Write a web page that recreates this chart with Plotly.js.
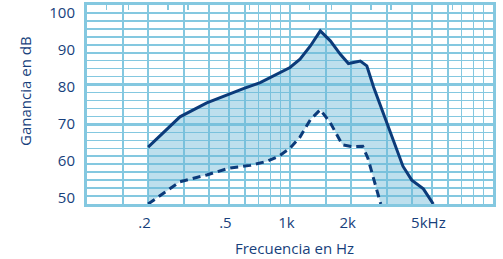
<!DOCTYPE html>
<html>
<head>
<meta charset="utf-8">
<script src="https://cdn.plot.ly/plotly-3.0.1.min.js"></script>
<style>html,body{margin:0;padding:0;background:#fff;}#chart{width:503px;height:259px;}</style>
</head>
<body>
<div id="chart"></div>
<script>
// Frequencies in kHz, gain in dB
var solidFreq = [0.2, 0.287, 0.389, 0.494, 0.589, 0.713, 0.828, 0.928, 1.0, 1.12, 1.26, 1.41, 1.58, 1.77, 1.94, 2.22, 2.39, 2.58, 2.78, 3.0, 3.23, 3.6, 3.98, 4.54, 5.08];
var solidGain = [64.3, 71.9, 75.4, 77.5, 79.0, 80.5, 82.1, 83.4, 84.3, 86.4, 89.7, 93.5, 91.0, 87.6, 85.3, 85.9, 84.7, 79.4, 74.9, 70.4, 66.1, 59.5, 56.0, 53.8, 50.0];
var dashFreq = [0.2, 0.287, 0.389, 0.5, 0.636, 0.768, 0.88, 1.0, 1.12, 1.26, 1.41, 1.58, 1.81, 2.03, 2.28, 2.42, 2.6, 2.8];
var dashGain = [50.0, 55.6, 57.3, 59.0, 59.7, 60.7, 62.0, 64.0, 66.8, 71.2, 73.7, 70.4, 64.9, 64.4, 64.5, 61.5, 55.8, 50.0];

var majorFreqTicks = [0.2, 0.5, 1, 2, 5];
var minorFreqTicks = [0.15, 0.3, 0.4, 0.6, 0.7, 0.8, 0.9, 1.5, 3, 4, 6, 7, 8, 9];
var freqTickText = ['.2', '.5', '1k', '2k', '5kHz'];
var thirdOctaveTicks = [0.125, 0.16, 0.25, 0.315, 0.4, 0.63, 0.8, 1.25, 1.6, 2.5, 3.15, 4, 5, 6.3, 8];
var gainTicks = [50, 60, 70, 80, 90, 100];
var gainTickText = ['50', '60', '70', '80', '90', '100'];

var GRID = 'rgb(132,200,224)';
var LINE = '#0c3b7a';
var TEXT = '#173f7c';
var FONT = 'Open Sans, sans-serif';

var traces = [
  {x: dashFreq, y: dashGain, type: 'scatter', mode: 'lines',
   line: {color: LINE, width: 3, dash: '8px,5px'}, hoverinfo: 'skip'},
  {x: solidFreq, y: solidGain, type: 'scatter', mode: 'lines',
   line: {color: LINE, width: 3}, fill: 'tonexty', fillcolor: 'rgba(108,184,216,0.45)', hoverinfo: 'skip'},
  // empty helper traces so the label / tick overlay axes get drawn
  {x: [], y: [], type: 'scatter', mode: 'lines', xaxis: 'x2', yaxis: 'y', hoverinfo: 'skip'},
  {x: [], y: [], type: 'scatter', mode: 'lines', xaxis: 'x3', yaxis: 'y', hoverinfo: 'skip'},
  {x: [], y: [], type: 'scatter', mode: 'lines', xaxis: 'x', yaxis: 'y2', hoverinfo: 'skip'}
];

var layout = {
  width: 503, height: 259,
  margin: {l: 87, r: 10, t: 5, b: 55},
  paper_bgcolor: '#fff', plot_bgcolor: '#fff',
  showlegend: false,
  font: {family: FONT, color: TEXT, size: 15},
  xaxis: {
    type: 'log', range: [-1, 1], tickvals: majorFreqTicks, showticklabels: false, ticks: '',
    showgrid: true, gridcolor: GRID, gridwidth: 2.5, zeroline: false,
    minor: {tickvals: minorFreqTicks, showgrid: true, gridcolor: GRID, gridwidth: 1.5, ticks: ''},
    showline: true, mirror: true, linecolor: GRID, linewidth: 3
  },
  yaxis: {
    range: [50, 100], dtick: 10, tick0: 50, showticklabels: false, ticks: '',
    showgrid: true, gridcolor: GRID, gridwidth: 2.5, zeroline: false,
    minor: {dtick: 2, showgrid: true, gridcolor: GRID, gridwidth: 1.5, ticks: ''},
    showline: true, mirror: true, linecolor: GRID, linewidth: 3
  },
  xaxis2: {
    overlaying: 'x', anchor: 'y', side: 'bottom', type: 'log', range: [-0.9828, 1.0172],
    tickmode: 'array', tickvals: majorFreqTicks, ticktext: freqTickText, ticks: '',
    ticklabelstandoff: 8, showgrid: false, zeroline: false, showline: false,
    tickfont: {family: FONT, color: TEXT, size: 15}
  },
  xaxis3: {
    overlaying: 'x', anchor: 'y', side: 'top', type: 'log', range: [-1, 1],
    tickmode: 'array', tickvals: thirdOctaveTicks, ticks: 'inside', ticklen: 5, tickwidth: 1.5,
    tickcolor: GRID, showticklabels: false, showgrid: false, zeroline: false, showline: false
  },
  yaxis2: {
    overlaying: 'y', anchor: 'x', side: 'left', range: [48.31, 101.96],
    tickmode: 'array', tickvals: gainTicks, ticktext: gainTickText, ticks: '',
    ticklabelstandoff: 11, showgrid: false, zeroline: false, showline: false,
    tickfont: {family: FONT, color: TEXT, size: 15}
  },
  annotations: [
    {text: 'Frecuencia en Hz', xref: 'paper', yref: 'paper', x: 0.512, y: -0.221,
     xanchor: 'center', yanchor: 'middle', showarrow: false, font: {family: FONT, color: TEXT, size: 15}},
    {text: 'Ganancia en dB', xref: 'paper', yref: 'paper', x: -0.1527, y: 0.568, textangle: -90,
     xanchor: 'center', yanchor: 'middle', showarrow: false, font: {family: FONT, color: TEXT, size: 15}}
  ]
};

Plotly.newPlot('chart', traces, layout, {displayModeBar: false, staticPlot: true});
</script>
</body>
</html>
